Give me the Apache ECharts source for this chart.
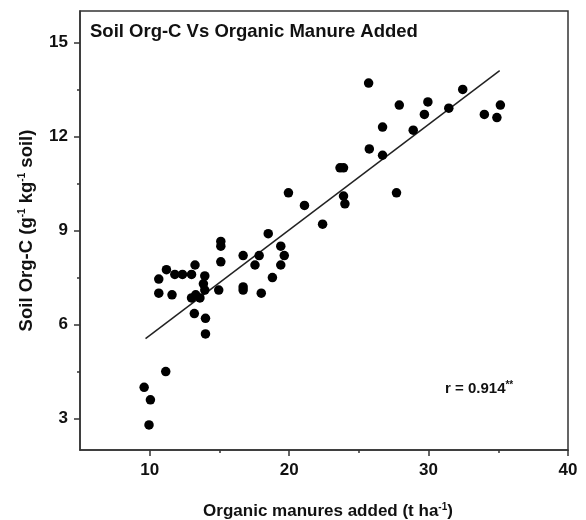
<!DOCTYPE html>
<html>
<head>
<meta charset="utf-8">
<script src="https://cdn.jsdelivr.net/npm/echarts@6/dist/echarts.min.js"></script>
<style>
  html, body { margin: 0; padding: 0; background: #fff; }
  #chart { width: 586px; height: 520px; }
</style>
</head>
<body>
<div id="chart"></div>
<script>
// organic manure added (t/ha) and soil org-C (g/kg)
const manure = [
  9.6, 10.05, 9.95, 11.15, 10.65, 10.65, 11.2, 11.8, 12.35, 13.0,
  11.6, 13.25, 13.95, 13.85, 13.95, 13.0, 13.3, 13.6, 13.2, 14.0,
  14.0, 14.95, 15.1, 15.1, 15.1, 16.7, 16.7, 16.7, 17.55, 17.85,
  18.0, 18.5, 18.8, 19.4, 19.65, 19.4, 19.95, 21.1, 22.4, 23.65,
  23.9, 23.9, 24.0, 25.7, 25.75, 26.7, 26.7, 27.7, 27.9, 28.9,
  29.7, 29.95, 31.45, 32.45, 34.0, 34.9, 35.15
];
const orgC = [
  4.0, 3.6, 2.8, 4.5, 7.45, 7.0, 7.75, 7.6, 7.6, 7.6,
  6.95, 7.9, 7.55, 7.3, 7.1, 6.85, 6.95, 6.85, 6.35, 6.2,
  5.7, 7.1, 8.65, 8.5, 8.0, 8.2, 7.2, 7.1, 7.9, 8.2,
  7.0, 8.9, 7.5, 8.5, 8.2, 7.9, 10.2, 9.8, 9.2, 11.0,
  11.0, 10.1, 9.85, 13.7, 11.6, 12.3, 11.4, 10.2, 13.0, 12.2,
  12.7, 13.1, 12.9, 13.5, 12.7, 12.6, 13.0
];
// fitted line end points
const fitX = [9.7, 35.1];
const fitY = [5.55, 14.1];

const xTicks = [10, 20, 30, 40];
const xMinorTicks = [15, 25, 35];
const yTicks = [3, 6, 9, 12, 15];
const yMinorTicks = [4.5, 7.5, 10.5, 13.5];

const font = "'Liberation Sans', Arial, sans-serif";
const axisColor = "#333";
const textColor = "#111";

const chart = echarts.init(document.getElementById("chart"), null, { renderer: "canvas" });

const supStyle = { fontFamily: font, fontWeight: "bold", fontSize: 10, color: textColor, verticalAlign: "top", padding: [0, 0, 9, 0] };

const majorAxis = (ticks) => ({
  axisLine: { show: true, lineStyle: { color: axisColor, width: 1.5 } },
  axisTick: { show: true, length: 6, customValues: ticks, lineStyle: { color: axisColor, width: 1.5 } },
  axisLabel: {
    customValues: ticks,
    color: textColor,
    fontFamily: font,
    fontWeight: "bold",
    fontSize: 17,
    margin: 12,
  },
  splitLine: { show: false },
});

const minorAxis = (ticks) => ({
  axisLine: { show: false },
  axisTick: { show: true, length: 3, customValues: ticks, lineStyle: { color: axisColor, width: 1.5 } },
  axisLabel: { show: false },
  splitLine: { show: false },
});

const option = {
  backgroundColor: "#fff",
  animation: false,
  title: {
    text: "Soil Org-C Vs Organic Manure Added",
    left: 85,
    top: 17,
    textStyle: { fontFamily: font, fontWeight: "bold", fontSize: 18.5, color: textColor },
  },
  grid: {
    left: 80,
    right: 18,
    top: 11,
    bottom: 70,
    outerBoundsMode: "none",
    show: true,
    borderColor: axisColor,
    borderWidth: 1.5,
  },
  xAxis: [
    {
      type: "value",
      min: 5,
      max: 40,
      position: "bottom",
      ...majorAxis(xTicks),
      name: "Organic manures added (t ha{sup|-1})",
      nameLocation: "middle",
      nameGap: 52,
      nameTextStyle: {
        fontFamily: font,
        fontWeight: "bold",
        fontSize: 17,
        color: textColor,
        padding: [0, 0, 0, 8],
        rich: { sup: supStyle },
      },
    },
    { type: "value", min: 5, max: 40, position: "bottom", ...minorAxis(xMinorTicks) },
  ],
  yAxis: [
    {
      type: "value",
      min: 2,
      max: 16,
      position: "left",
      ...majorAxis(yTicks),
      name: "Soil Org-C (g{sup|-1} kg{sup|-1} soil)",
      nameLocation: "middle",
      nameGap: 44,
      nameTextStyle: {
        fontFamily: font,
        fontWeight: "bold",
        fontSize: 18.5,
        color: textColor,
        rich: { sup: supStyle },
      },
    },
    { type: "value", min: 2, max: 16, position: "left", ...minorAxis(yMinorTicks) },
  ],
  graphic: [
    {
      type: "text",
      left: 445,
      top: 380,
      style: {
        text: "r = 0.914{sup|**}",
        fontFamily: font,
        fontWeight: "bold",
        fontSize: 15,
        fill: textColor,
        rich: { sup: { fontFamily: font, fontWeight: "bold", fontSize: 10, fill: textColor, verticalAlign: "top", padding: [0, 0, 7, 0] } },
      },
    },
  ],
  series: [
    {
      type: "scatter",
      xAxisIndex: 0,
      yAxisIndex: 0,
      symbol: "circle",
      symbolSize: 9.5,
      itemStyle: { color: "#000", opacity: 1 },
      data: manure.map((x, i) => [x, orgC[i]]),
      z: 3,
    },
    {
      type: "line",
      xAxisIndex: 0,
      yAxisIndex: 0,
      symbol: "none",
      lineStyle: { color: "#222", width: 1.5 },
      data: fitX.map((x, i) => [x, fitY[i]]),
      z: 2,
    },
  ],
};

chart.setOption(option);
</script>
</body>
</html>
